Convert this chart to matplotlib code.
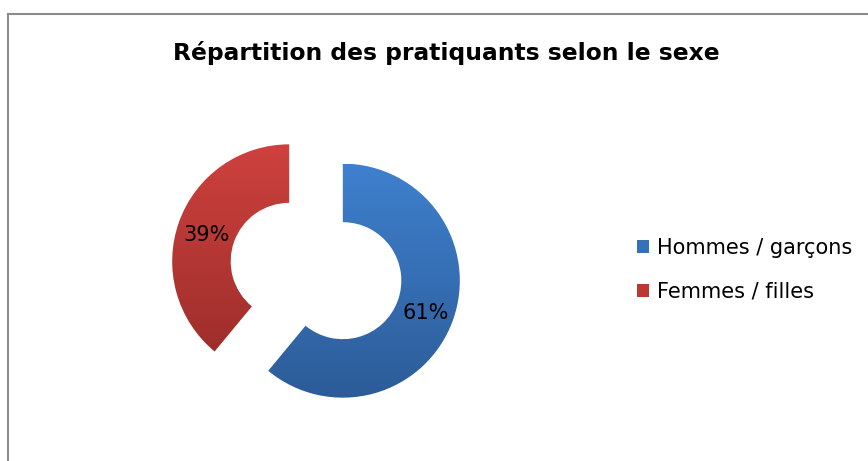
import numpy as np
import matplotlib as mpl
mpl.use('Agg')
import matplotlib.pyplot as plt
from matplotlib.patches import Patch
from matplotlib.lines import Line2D
from matplotlib.colors import LinearSegmentedColormap

# data
labels = ['Hommes / garçons', 'Femmes / filles']
values = [61, 39]
title = 'Répartition des pratiquants selon le sexe'

# gradient colours (top, bottom) for each slice
tops = ['#3f80ce', '#ce413e']
bottoms = ['#2c5c98', '#982c29']
mids = ['#3670b8', '#bb3835']

W, H = 868, 461
fig = plt.figure(figsize=(W / 100, H / 100), dpi=100)
ax = fig.add_axes([0, 0, 1, 1])

# work in pixel units so the donut lands where it should
R = 117
cx, cy = 316, H - 271
wedges, texts, autotexts = ax.pie(
    values, radius=R, center=(cx, cy), startangle=90, counterclock=False,
    explode=[28.5, 28.5], autopct='%d%%', pctdistance=0.75,
    wedgeprops=dict(width=R / 2, linewidth=0),
    textprops=dict(fontsize=15, color='black'))

# vertical gradient fills clipped to each wedge
grad = np.linspace(0, 1, 256).reshape(-1, 1)
for w, top, bot in zip(wedges, tops, bottoms):
    x0, y0 = w.center
    cmap = LinearSegmentedColormap.from_list('g', [bot, top])
    im = ax.imshow(grad, cmap=cmap, origin='lower', aspect='auto',
                   extent=[x0 - R, x0 + R, y0 - R, y0 + R], zorder=w.get_zorder())
    im.set_clip_path(w)
    w.set_alpha(0)
for t in autotexts:
    t.set_zorder(5)
    x, y = t.get_position()
    t.set_position((x, y - 3))

ax.set_xlim(0, W)
ax.set_ylim(0, H)
ax.set_aspect('equal')
ax.axis('off')

fig.text(446 / W, 1 - 53 / H, title, ha='center', va='center',
         fontsize=16.8, fontweight='bold')

handles = [Patch(facecolor=c, edgecolor='none') for c in mids]
fig.legend(handles, labels, loc='center left', bbox_to_anchor=(618 / W, 1 - 270 / H),
           frameon=False, fontsize=15, handlelength=0.6, handleheight=0.6,
           handletextpad=0.35, labelspacing=1.15)

# chart frame (left and top edges visible)
fig.add_artist(Line2D([8 / W, 8 / W], [0, 1 - 14 / H], color='#8c8c8c', lw=1.5))
fig.add_artist(Line2D([8 / W, 1], [1 - 14 / H, 1 - 14 / H], color='#8c8c8c', lw=1.5))

fig.savefig('out.png', dpi=100)
